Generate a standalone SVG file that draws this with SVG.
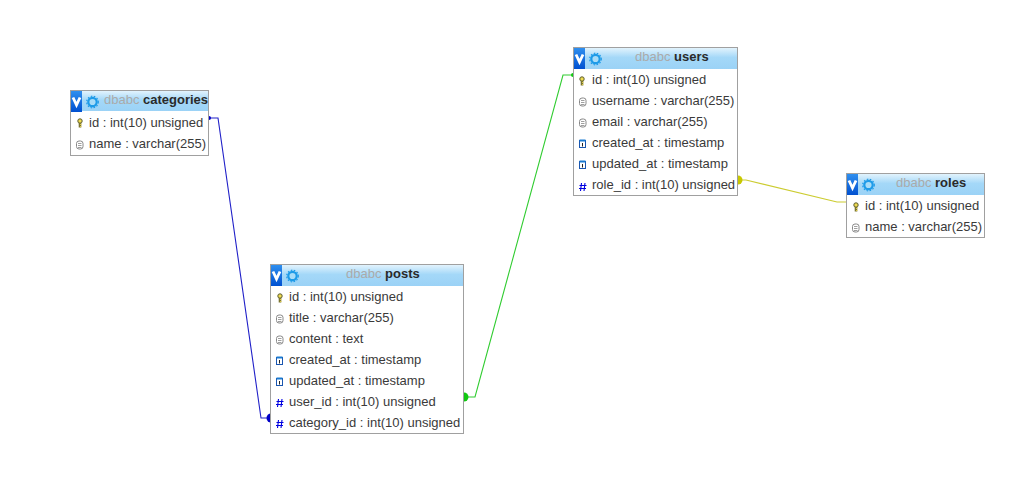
<svg xmlns="http://www.w3.org/2000/svg" width="1022" height="491" viewBox="0 0 1022 491">
<style>
text{font-family:"Liberation Sans",Arial,sans-serif;font-size:13px;fill:#3a3a3a}
.b{fill:#fff;stroke:#a0a0a0;stroke-width:1}
.h{fill:url(#hg)}
.db{fill:#aaa}
.tn{font-weight:bold;fill:#2a2a2a}
.c{fill:none;stroke-width:1.1}
</style>
<defs>
<linearGradient id="hg" x1="0" y1="0" x2="0" y2="1"><stop offset="0" stop-color="#e2f3fd"/><stop offset=".45" stop-color="#a4d8f8"/><stop offset="1" stop-color="#9bd2f6"/></linearGradient>
<linearGradient id="vg" x1="0" y1="0" x2="0" y2="1"><stop offset="0" stop-color="#2f8fef"/><stop offset="1" stop-color="#0050d0"/></linearGradient>
<g id="v"><rect width="11" height="21" fill="url(#vg)"/><path d="M2 6.500 L5.500 14 L9 6.500" fill="none" stroke="#fff" stroke-width="2.8"/></g>
<g id="gear"><circle r="4.200" fill="#a8dcf8" stroke="#1e9be8" stroke-width="2.200"/><circle r="5.800" fill="none" stroke="#1e9be8" stroke-width="1.200" stroke-dasharray="1.600 1.500"/></g>
<g id="key"><circle cy="-2" r="2.200" fill="#f0dc50" stroke="#5a5a30" stroke-width="1"/><path d="M0 0V4.500" stroke="#7a7430" stroke-width="2.600"/><path d="M0 1.500H1.500M0 3.500H1.500" stroke="#f0dc50" stroke-width=".8"/></g>
<g id="str"><rect x="-3" y="-4" width="6.500" height="8" rx="2.500" fill="#fff" stroke="#888" stroke-width="1"/><path d="M-1.500 -1.500H2M-1.500 .5H2M-1.500 2.500H2" stroke="#888" stroke-width=".8"/></g>
<g id="ts"><rect x="-3" y="-3.500" width="6" height="7" fill="#fff" stroke="#1a56b0" stroke-width="1"/><path d="M-3 -3.500H3" stroke="#1a7ad0" stroke-width="2"/><path d="M0 -1V2.500" stroke="#222" stroke-width="1"/></g>
<g id="num"><path d="M-1.500 -4L-2.500 4M2 -4L1 4M-3.500 -1.500H3.500M-4 1.500H3" fill="none" stroke="#0000e0" stroke-width="1.100"/></g>
</defs>
<rect width="1022" height="491" fill="#fff"/>
<g id="connectors">
<path class="c" stroke="#2020c8" d="M209 118H218L261 418H270"/>
<path d="M209 116v4a2 2 0 0 0 0-4z" fill="#0000c8"/>
<path d="M271 413.500v9a4.500 4.500 0 0 1 0-9z" fill="#0000c8"/>
<path class="c" stroke="#30cc30" d="M464 397H475L563 75H573"/>
<path d="M464 392.500v9a4.500 4.500 0 0 0 0-9z" fill="#10c810"/>
<path d="M573 73v4a2 2 0 0 1 0-4z" fill="#10c810"/>
<path class="c" stroke="#cccc30" d="M738 180H746L837 202H846"/>
<path d="M738 175.500v9a4.500 4.500 0 0 0 0-9z" fill="#c8c800"/>
</g>
<g id="table-categories">
<rect class="b" x="70.500" y="90.500" width="138" height="65"/>
<rect class="h" x="71" y="91" width="137" height="20"/>
<use href="#v" x="71" y="91"/><use href="#gear" x="92.500" y="102"/>
<text x="104" y="104"><tspan class="db">dbabc</tspan> <tspan class="tn">categories</tspan></text>
<use href="#key" x="80" y="123"/><text x="89" y="127">id : int(10) unsigned</text>
<use href="#str" x="79.500" y="145"/><text x="89" y="148">name : varchar(255)</text>
</g>
<g id="table-posts">
<rect class="b" x="270.500" y="264.500" width="193" height="169"/>
<rect class="h" x="271" y="265" width="192" height="21"/>
<use href="#v" x="271" y="265"/><use href="#gear" x="292.500" y="276"/>
<text x="346" y="278"><tspan class="db">dbabc</tspan> <tspan class="tn">posts</tspan></text>
<use href="#key" x="280" y="298"/><text x="289" y="301">id : int(10) unsigned</text>
<use href="#str" x="279.500" y="319"/><text x="289" y="322">title : varchar(255)</text>
<use href="#str" x="279.500" y="340"/><text x="289" y="343">content : text</text>
<use href="#ts" x="279.500" y="361"/><text x="289" y="364">created_at : timestamp</text>
<use href="#ts" x="279.500" y="382"/><text x="289" y="385">updated_at : timestamp</text>
<use href="#num" x="280" y="403"/><text x="289" y="406">user_id : int(10) unsigned</text>
<use href="#num" x="280" y="424"/><text x="289" y="427">category_id : int(10) unsigned</text>
</g>
<g id="table-users">
<rect class="b" x="573.500" y="47.500" width="164" height="148"/>
<rect class="h" x="574" y="48" width="163" height="21"/>
<use href="#v" x="574" y="48"/><use href="#gear" x="595.500" y="59"/>
<text x="635" y="61"><tspan class="db">dbabc</tspan> <tspan class="tn">users</tspan></text>
<use href="#key" x="582" y="81"/><text x="592" y="84">id : int(10) unsigned</text>
<use href="#str" x="582.500" y="102"/><text x="592" y="105">username : varchar(255)</text>
<use href="#str" x="582.500" y="123"/><text x="592" y="126">email : varchar(255)</text>
<use href="#ts" x="582.500" y="144"/><text x="592" y="147">created_at : timestamp</text>
<use href="#ts" x="582.500" y="165"/><text x="592" y="168">updated_at : timestamp</text>
<use href="#num" x="583" y="187"/><text x="592" y="189">role_id : int(10) unsigned</text>
</g>
<g id="table-roles">
<rect class="b" x="846.500" y="173.500" width="138" height="64"/>
<rect class="h" x="847" y="174" width="137" height="21"/>
<use href="#v" x="847" y="174"/><use href="#gear" x="868.500" y="185"/>
<text x="896" y="187"><tspan class="db">dbabc</tspan> <tspan class="tn">roles</tspan></text>
<use href="#key" x="856" y="207"/><text x="865" y="210">id : int(10) unsigned</text>
<use href="#str" x="855.500" y="228"/><text x="865" y="231">name : varchar(255)</text>
</g>
</svg>
